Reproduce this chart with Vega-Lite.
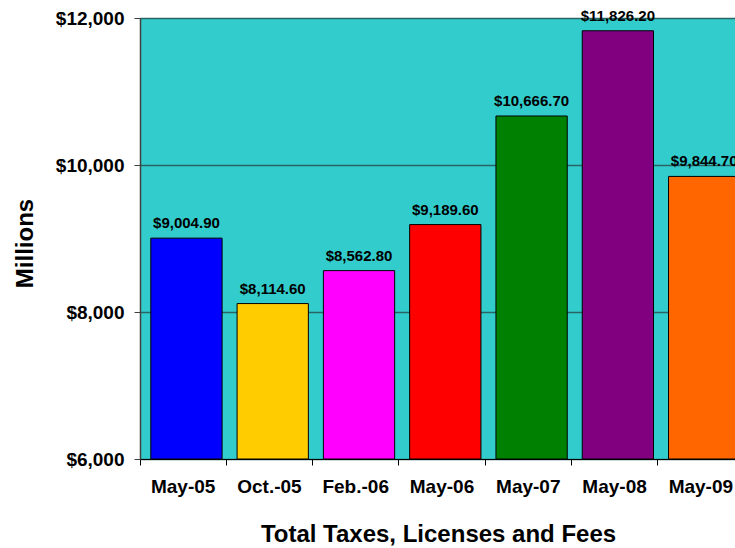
{
  "$schema": "https://vega.github.io/schema/vega-lite/v6.json",
  "autosize": {"type": "none"},
  "padding": {"left": 140, "top": 18, "right": 0, "bottom": 89},
  "width": 604,
  "height": 441,
  "background": "white",
  "config": {
    "font": "Liberation Sans",
    "view": {"fill": "#33CCCC", "stroke": "#808080", "strokeWidth": 1}
  },
  "data": {
    "values": [
      {"period": "May-05", "value": 9004.9, "color": "#0000FF"},
      {"period": "Oct.-05", "value": 8114.6, "color": "#FFCC00"},
      {"period": "Feb.-06", "value": 8562.8, "color": "#FF00FF"},
      {"period": "May-06", "value": 9189.6, "color": "#FF0000"},
      {"period": "May-07", "value": 10666.7, "color": "#008000"},
      {"period": "May-08", "value": 11826.2, "color": "#800080"},
      {"period": "May-09", "value": 9844.7, "color": "#FF6600"}
    ]
  },
  "encoding": {
    "x": {
      "field": "period",
      "type": "nominal",
      "sort": null,
      "scale": {"paddingInner": 0, "paddingOuter": 0},
      "axis": {
        "title": "Total Taxes, Licenses and Fees",
        "titleFont": "Liberation Sans",
        "titleFontSize": 24,
        "titleFontWeight": "bold",
        "titleColor": "#000000",
        "titlePadding": 26,
        "titleX": 298,
        "labelAngle": 0,
        "labelFont": "Liberation Sans",
        "labelFontSize": 19,
        "labelFontWeight": "bold",
        "labelColor": "#000000",
        "labelPadding": 12,
        "bandPosition": 0,
        "tickSize": 6,
        "tickColor": "#000000",
        "domainColor": "#000000",
        "domainWidth": 1,
        "grid": false
      }
    },
    "y": {
      "field": "value",
      "type": "quantitative",
      "scale": {"domain": [6000, 12000], "nice": false, "zero": false},
      "axis": {
        "title": "Millions",
        "titleFont": "Liberation Sans",
        "titleFontSize": 24,
        "titleFontWeight": "bold",
        "titleColor": "#000000",
        "titlePadding": 18,
        "titleY": 225,
        "values": [6000, 8000, 10000, 12000],
        "format": "$,.0f",
        "labelFont": "Liberation Sans",
        "labelFontSize": 19,
        "labelFontWeight": "bold",
        "labelColor": "#000000",
        "labelPadding": 10,
        "tickSize": 6,
        "tickColor": "#404040",
        "domainColor": "#404040",
        "domainWidth": 1.5,
        "grid": true,
        "gridColor": "#2A6464",
        "gridWidth": 1.5,
        "gridOpacity": 1
      }
    }
  },
  "layer": [
    {
      "mark": {
        "type": "bar",
        "width": {"band": 0.826},
        "xOffset": 3.3,
        "stroke": "#000000",
        "strokeWidth": 1,
        "clip": true
      },
      "encoding": {
        "y2": {"datum": 6000},
        "color": {"field": "color", "type": "nominal", "scale": null, "legend": null}
      }
    },
    {
      "mark": {
        "type": "text",
        "baseline": "alphabetic",
        "align": "center",
        "dy": -10,
        "xOffset": 3.3,
        "font": "Liberation Sans",
        "fontSize": 15,
        "fontWeight": "bold",
        "color": "#000000"
      },
      "encoding": {
        "text": {"field": "value", "type": "quantitative", "format": "$,.2f"}
      }
    }
  ]
}
